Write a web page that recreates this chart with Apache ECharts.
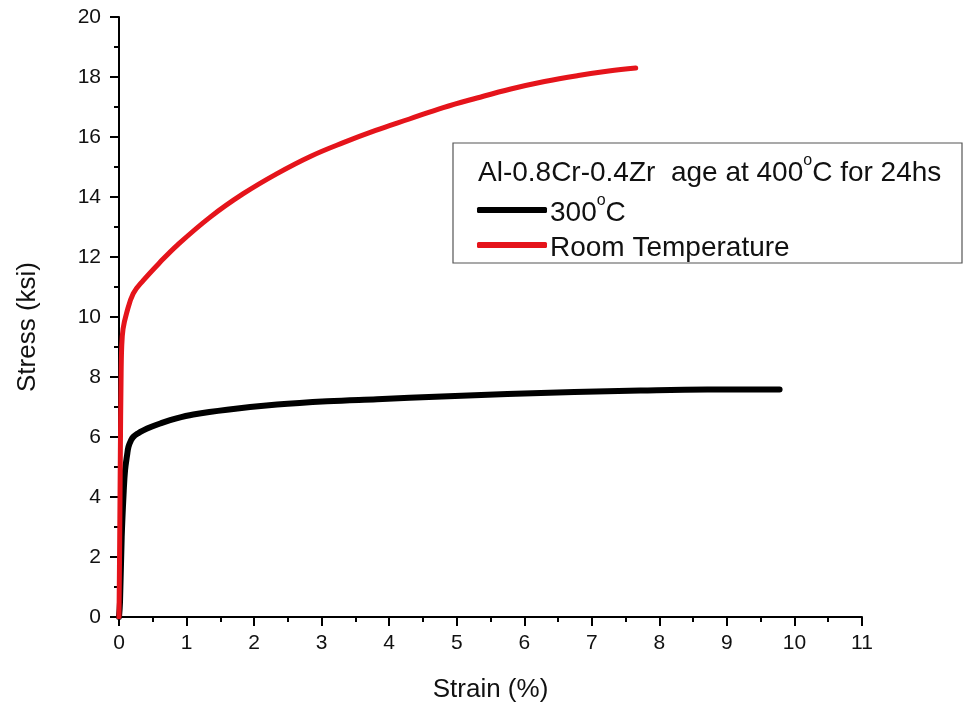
<!DOCTYPE html>
<html>
<head>
<meta charset="utf-8">
<script src="https://cdn.jsdelivr.net/npm/echarts@6/dist/echarts.min.js"></script>
<style>
html,body{margin:0;padding:0;background:#fff;}
#chart{width:964px;height:709px;}
</style>
</head>
<body>
<div id="chart"></div>
<script>
// Data
var seriesNames = ['300°C', 'Room Temperature'];
var legendTitle = 'Al-0.8Cr-0.4Zr  age at 400°C for 24hs';

var strain300 = [0, 0.015, 0.04, 0.07, 0.09, 0.12, 0.14, 0.18, 0.21, 0.28, 0.36, 0.48, 0.61, 0.85, 1.1, 1.6, 2.34, 3.08, 3.82, 4.78, 5.75, 6.74, 7.72, 8.71, 9.78];
var stress300 = [0, 0.5, 2.67, 4.2, 4.9, 5.4, 5.67, 5.9, 6.0, 6.12, 6.22, 6.34, 6.45, 6.62, 6.75, 6.91, 7.08, 7.19, 7.26, 7.35, 7.43, 7.5, 7.55, 7.58, 7.58];

var strainRT = [0, 0.01, 0.02, 0.03, 0.04, 0.06, 0.11, 0.21, 0.36, 0.61, 0.86, 1.35, 1.84, 2.34, 2.84, 3.33, 3.8, 4.3, 4.8, 5.3, 5.8, 6.3, 6.8, 7.25, 7.65];
var stressRT = [0, 2.5, 5.5, 7.8, 9.0, 9.6, 10.11, 10.78, 11.22, 11.83, 12.39, 13.33, 14.11, 14.78, 15.36, 15.82, 16.22, 16.6, 16.98, 17.3, 17.6, 17.85, 18.05, 18.2, 18.3];

function pairs(xs, ys) { return xs.map(function (x, i) { return [x, ys[i]]; }); }

var chart = echarts.init(document.getElementById('chart'), null, {renderer: 'canvas'});
var FONT = '"Liberation Sans", Arial, sans-serif';
var LEG_FS = 28;

function supFormat(name) {
  var parts = name.split('°');
  var out = '{n|' + parts[0] + '}';
  for (var i = 1; i < parts.length; i++) out += '{sup|o}{n|' + parts[i] + '}';
  return out;
}

var richLegend = {
  n: {fontSize: LEG_FS, lineHeight: 34, verticalAlign: 'bottom', color: '#111', fontFamily: FONT},
  sup: {fontSize: 16, lineHeight: 18, verticalAlign: 'top', color: '#111', fontFamily: FONT}
};
var richTitle = {
  n: {fontSize: LEG_FS, lineHeight: 34, verticalAlign: 'bottom', fill: '#111', fontFamily: FONT},
  sup: {fontSize: 16, lineHeight: 18, verticalAlign: 'top', fill: '#111', fontFamily: FONT}
};

var axisCommon = {
  axisLine: {show: true, onZero: false, lineStyle: {color: '#000', width: 2}},
  axisTick: {show: true, inside: false, length: 9, lineStyle: {color: '#000', width: 2}},
  minorTick: {show: true, splitNumber: 2, length: 5, lineStyle: {color: '#000', width: 2}},
  splitLine: {show: false}
};

var option = {
  animation: false,
  backgroundColor: '#fff',
  textStyle: {fontFamily: FONT},
  grid: {left: 119, right: 102, top: 17, bottom: 92, containLabel: false},
  xAxis: Object.assign({
    type: 'value', min: 0, max: 11, interval: 1,
    name: 'Strain (%)', nameLocation: 'middle', nameGap: 60,
    nameTextStyle: {fontSize: 26, color: '#111', fontFamily: FONT},
    axisLabel: {fontSize: 21, color: '#111', margin: 16, fontFamily: FONT}
  }, axisCommon),
  yAxis: Object.assign({
    type: 'value', min: 0, max: 20, interval: 2,
    name: 'Stress (ksi)', nameLocation: 'middle', nameGap: 78, nameRotate: 90,
    nameTextStyle: {fontSize: 26, color: '#111', fontFamily: FONT, padding: [0, 20, 0, 0]},
    axisLabel: {fontSize: 21, color: '#111', margin: 18, fontFamily: FONT}
  }, axisCommon),
  legend: {
    show: true,
    orient: 'vertical',
    left: 477, top: 193,
    icon: 'roundRect',
    itemWidth: 70, itemHeight: 6,
    itemGap: 7,
    padding: 0,
    data: seriesNames,
    formatter: supFormat,
    textStyle: {
      fontSize: LEG_FS, color: '#111', fontFamily: FONT, padding: [0, 0, 0, -2],
      rich: richLegend
    }
  },
  graphic: [
    {
      type: 'rect', z: 1,
      shape: {x: 453, y: 143, width: 509, height: 120},
      style: {fill: '#fff', stroke: '#555', lineWidth: 1.2}
    },
    {
      type: 'text', z: 2,
      left: 478, top: 153,
      style: {
        text: supFormat(legendTitle),
        fontSize: LEG_FS, fill: '#111', fontFamily: FONT,
        rich: richTitle
      }
    }
  ],
  series: [
    {
      name: seriesNames[0], type: 'line', showSymbol: false, symbol: 'none',
      smooth: 0.4,
      data: pairs(strain300, stress300),
      lineStyle: {color: '#000', width: 6, cap: 'round', join: 'round'},
      itemStyle: {color: '#000'}
    },
    {
      name: seriesNames[1], type: 'line', showSymbol: false, symbol: 'none',
      smooth: 0.4,
      data: pairs(strainRT, stressRT),
      lineStyle: {color: '#e5141b', width: 5, cap: 'round', join: 'round'},
      itemStyle: {color: '#e5141b'}
    }
  ]
};
chart.setOption(option);
</script>
</body>
</html>
